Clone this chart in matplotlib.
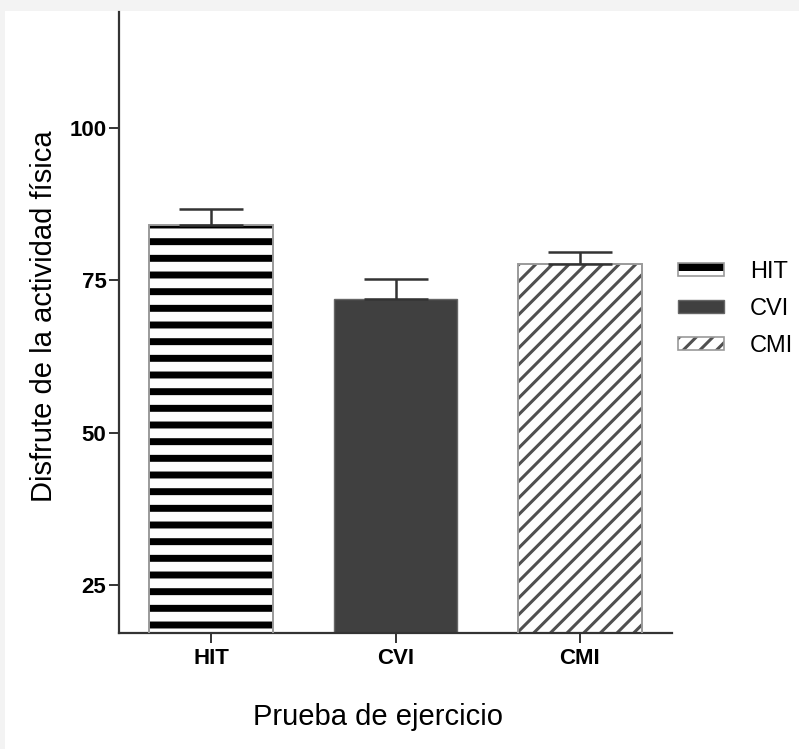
import matplotlib
matplotlib.use("Agg")
import matplotlib.pyplot as plt
from matplotlib.patches import Rectangle
from matplotlib.legend_handler import HandlerBase

# data
groups = ["HIT", "CVI", "CMI"]
means = [84.1, 71.9, 77.6]
sem = [2.6, 3.3, 2.1]
y_ticks = [25, 50, 75, 100]

plt.rcParams['font.family'] = ['Liberation Sans', 'DejaVu Sans']

W, H = 799, 749
fig = plt.figure(figsize=(W / 100, H / 100), dpi=100)
fig.patch.set_facecolor('#f3f3f3')
fig.add_artist(Rectangle((5 / W, 0), 1, (H - 11) / H, transform=fig.transFigure,
                         facecolor='white', edgecolor='none', zorder=-10))

ax = fig.add_axes([119 / W, (H - 633) / H, (672 - 119) / W, (633 - 12) / H])
ax.set_facecolor('none')

x = list(range(len(groups)))
width = 0.67

# HIT: horizontal black stripes
hit = ax.bar(x[0], means[0], width, color='white', edgecolor='black', hatch='-', linewidth=0, zorder=2)
# CVI: solid dark grey
cvi = ax.bar(x[1], means[1], width, color='#404040', edgecolor='#666666', linewidth=1.0, zorder=2)
# CMI: diagonal grey hatch
cmi = ax.bar(x[2], means[2], width, color='white', edgecolor='#505050', hatch='//', linewidth=0, zorder=2)

for p in hit:
    if hasattr(p, 'set_hatch_linewidth'):
        p.set_hatch_linewidth(5.0)
for p in cmi:
    if hasattr(p, 'set_hatch_linewidth'):
        p.set_hatch_linewidth(2.2)

# grey frames over the hatched bars
ax.bar([x[0], x[2]], [means[0], means[2]], width, fill=False, edgecolor='#9a9a9a', linewidth=1.4, zorder=3)

ax.errorbar(x, means, yerr=[[0] * len(sem), sem], fmt='none', ecolor='#333333',
            elinewidth=1.8, capsize=23, capthick=1.8, zorder=4)

ax.set_xlim(-0.5, 2.5)
ax.set_ylim(17.1, 119)
ax.set_yticks(y_ticks)
ax.set_xticks(x)
ax.set_xticklabels(groups)
for lab in ax.get_xticklabels() + ax.get_yticklabels():
    lab.set_fontweight('bold')
    lab.set_fontsize(16)
ax.tick_params(axis='both', length=7, width=1.4, color='#333333')
ax.tick_params(axis='y', pad=2)
ax.tick_params(axis='x', pad=4)

for s in ['top', 'right']:
    ax.spines[s].set_visible(False)
for s in ['left', 'bottom']:
    ax.spines[s].set_linewidth(1.6)
    ax.spines[s].set_color('#333333')

ax.set_ylabel('Disfrute de la actividad física', fontsize=21)
ax.yaxis.set_label_coords(-0.110, 0.51)
ax.set_xlabel('Prueba de ejercicio', fontsize=21)
ax.xaxis.set_label_coords(0.468, -0.112)


class StripeHandler(HandlerBase):
    def create_artists(self, legend, orig_handle, xd, yd, w, h, fontsize, trans):
        top = Rectangle((-xd, -yd + h * 0.45), w, h * 0.55, facecolor='black', lw=0, transform=trans)
        frame = Rectangle((-xd, -yd), w, h, facecolor='none', edgecolor='#9a9a9a', lw=1.2, transform=trans)
        return [top, frame]


class DiagHandler(HandlerBase):
    def create_artists(self, legend, orig_handle, xd, yd, w, h, fontsize, trans):
        hatch = Rectangle((-xd, -yd), w, h, facecolor='white', edgecolor='#505050', hatch='//',
                          lw=0, transform=trans)
        if hasattr(hatch, 'set_hatch_linewidth'):
            hatch.set_hatch_linewidth(2.2)
        frame = Rectangle((-xd, -yd), w, h, facecolor='none', edgecolor='#9a9a9a', lw=1.2, transform=trans)
        return [hatch, frame]


class SolidHandler(HandlerBase):
    def create_artists(self, legend, orig_handle, xd, yd, w, h, fontsize, trans):
        r = Rectangle((-xd, -yd), w, h, facecolor='#404040', edgecolor='#666666', lw=1.0, transform=trans)
        return [r]


fig.legend([hit, cvi, cmi], groups, loc='center left', bbox_to_anchor=(678 / W, (H - 309) / H),
           frameon=False, fontsize=17, handlelength=1.95, handleheight=0.47, handletextpad=1.1,
           labelspacing=0.62, borderpad=0, borderaxespad=0,
           handler_map={hit: StripeHandler(), cvi: SolidHandler(), cmi: DiagHandler()})

fig.savefig('out.png', dpi=100, facecolor=fig.get_facecolor())
